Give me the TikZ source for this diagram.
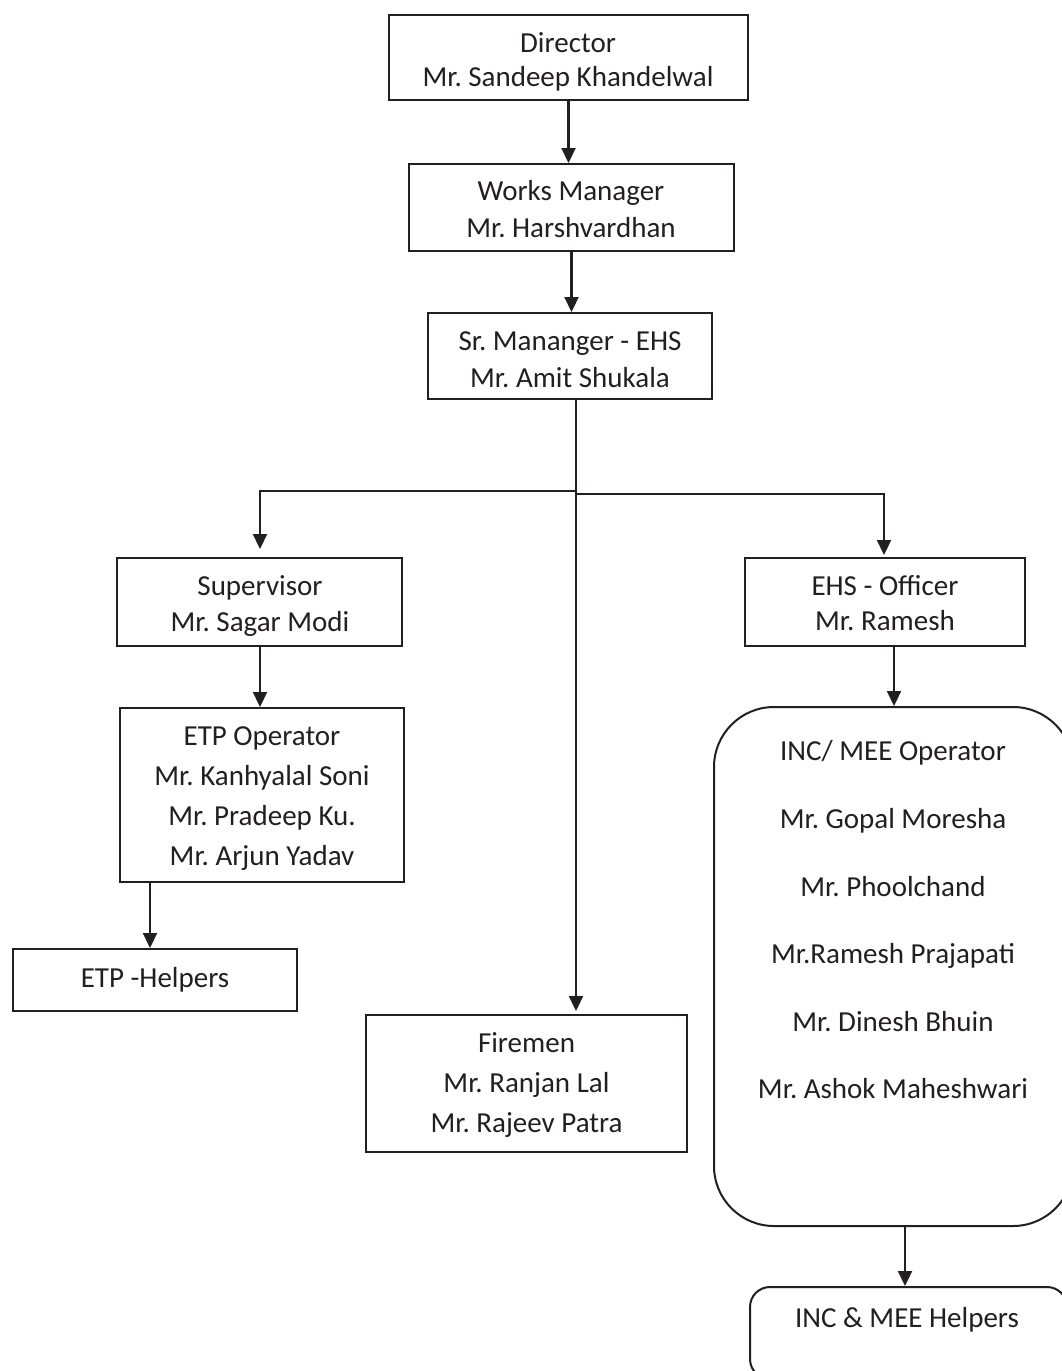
\documentclass[tikz,border=0pt]{standalone}
\usepackage{fontspec}
\setmainfont{Carlito}
\usetikzlibrary{arrows.meta}
\definecolor{ink}{HTML}{231F20}
\newcommand{\mystrut}{\rule[-0.3em]{0pt}{1.15em}}
\frenchspacing
\tikzset{
  box/.style={draw=ink, line width=2pt, rectangle, inner sep=0pt},
  rbox/.style={box, rounded corners=#1},
  txt/.style={text=ink, align=center, inner sep=0pt, font=\fontsize{29}{#1}\selectfont},
  ln/.style={draw=ink, line width=2.2pt},
  arr/.style={ln, -{Triangle[length=15pt,width=14pt]}}
}
\begin{document}
\begin{tikzpicture}[x=1pt,y=-1pt]
\useasboundingbox (0,0) rectangle (1062,1371);
\fill[white] (0,0) rectangle (1062,1371);
\clip (0,0) rectangle (1062,1371);

% boxes
\node[box, minimum width=359pt, minimum height=85pt]  (dir)  at (568.5,57.5) {};
\node[box, minimum width=325pt, minimum height=87pt]  (wm)   at (571.5,207.5) {};
\node[box, minimum width=284pt, minimum height=86pt]  (sr)   at (570,356) {};
\node[box, minimum width=285pt, minimum height=88pt]  (sup)  at (259.5,602) {};
\node[box, minimum width=280pt, minimum height=88pt]  (ehs)  at (885,602) {};
\node[box, minimum width=284pt, minimum height=174pt] (etp)  at (262,795) {};
\node[box, minimum width=284pt, minimum height=62pt]  (etph) at (155,980) {};
\node[box, minimum width=321pt, minimum height=137pt] (fire) at (526.5,1083.5) {};
\node[rbox=60pt, minimum width=359pt, minimum height=519pt] (inc) at (893.5,966.5) {};
\node[rbox=20pt, minimum width=317pt, minimum height=92pt]  (inch) at (908.5,1333) {};

% texts
\node[txt=34] (tdir) at (568,62) {\mystrut Director\\\mystrut Mr. Sandeep Khandelwal};
\node[txt=37] (twm) at (571,211.5) {\mystrut Works Manager\\\mystrut Mr. Harshvardhan};
\node[txt=37] (tsr) at (570,361.5) {\mystrut Sr. Mananger - EHS\\\mystrut Mr. Amit Shukala};
\node[txt=36] (tsup) at (260,605.5) {\mystrut Supervisor\\\mystrut Mr. Sagar Modi};
\node[txt=35] (tehs) at (885,605) {\mystrut EHS - Officer\\\mystrut Mr. Ramesh};
\node[txt=40] (tetp) at (262,797.5) {\mystrut ETP Operator\\\mystrut Mr. Kanhyalal Soni\\\mystrut Mr. Pradeep Ku.\\\mystrut Mr. Arjun Yadav};
\node[txt=36] (tetph) at (155,980) {\mystrut ETP -Helpers};
\node[txt=40] (tfire) at (526.5,1085) {\mystrut Firemen\\\mystrut Mr. Ranjan Lal\\\mystrut Mr. Rajeev Patra};
\node[txt=67.6] (tinc) at (893,922) {\mystrut INC/ MEE Operator\\\mystrut Mr. Gopal Moresha\\\mystrut Mr. Phoolchand\\\mystrut Mr.Ramesh Prajapati\\\mystrut Mr. Dinesh Bhuin\\\mystrut Mr. Ashok Maheshwari};
\node[txt=36] (tinch) at (907,1320) {\mystrut INC \& MEE Helpers};

% connectors
\draw[arr] (dir.south) -- (dir.south |- wm.north);
\draw[arr] (wm.south) -- (wm.south |- sr.north);

\coordinate (j)  at (576,492.5);
\coordinate (jl) at (260,491);
\coordinate (jr) at (884,494);
\draw[ln] (sr.south -| j) -- (j);
\draw[arr] (j) -- ([yshift=3pt]j |- fire.north);
\draw[arr] (j |- jl) -- (jl) -- ([yshift=8pt]jl |- sup.north);
\draw[arr] (j |- jr) -- (jr) -- ([yshift=2pt]jr |- ehs.north);

\draw[arr] (sup.south -| jl) -- (jl |- etp.north);
\coordinate (a1) at ([xshift=-5pt]etph.north);
\draw[arr] (etp.south -| a1) -- (a1);
\coordinate (a2) at ([xshift=0.5pt]inc.north);
\draw[arr] (ehs.south -| a2) -- (a2);
\coordinate (a3) at ([xshift=-3.5pt]inch.north);
\draw[arr] (inc.south -| a3) -- (a3);
\end{tikzpicture}
\end{document}
